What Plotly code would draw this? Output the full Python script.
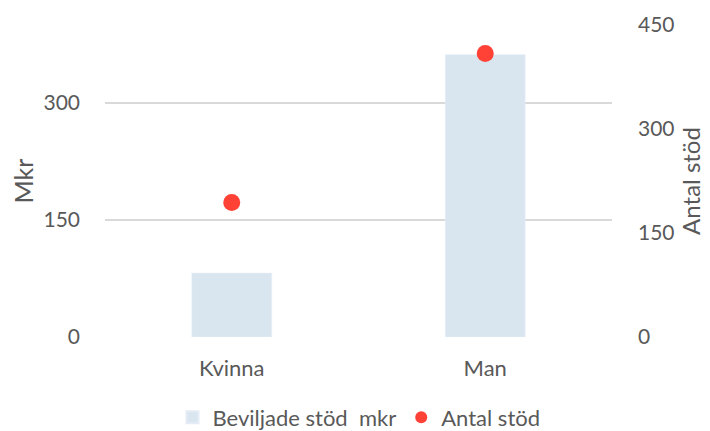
import plotly.graph_objects as go

categories = ["Kvinna", "Man"]
beviljade_mkr = [82, 362]
antal_stod = [194, 409]

left_ticks = [0, 150, 300]
right_ticks = [0, 150, 300, 450]

FONT = "Lato"
GREY = "#595959"

fig = go.Figure()
fig.add_trace(go.Bar(
    x=categories, y=beviljade_mkr, name="Beviljade stöd  mkr",
    marker=dict(color="#d9e6f0"), width=0.315, yaxis="y",
))
fig.add_trace(go.Scatter(
    x=categories, y=antal_stod, name="Antal stöd", mode="markers",
    marker=dict(color="#ff4136", size=17), yaxis="y2",
))

fig.update_layout(
    width=702, height=423,
    margin=dict(l=97, r=98, t=17, b=94, autoexpand=False),
    paper_bgcolor="white", plot_bgcolor="white",
    font=dict(family=FONT, color=GREY, size=21),
    showlegend=True,
    legend=dict(orientation="h", x=0.5, xanchor="center", xref="container",
                y=0.032, yanchor="middle", yref="container",
                font=dict(size=22, color=GREY), itemsizing="constant",
                traceorder="normal", itemwidth=30),
    xaxis=dict(showgrid=False, showline=False, ticks="", ticklabelstandoff=16,
               tickfont=dict(size=22, color=GREY)),
    yaxis=dict(range=[0, 400], tickvals=left_ticks, showgrid=True, gridcolor="#d9d9d9",
               gridwidth=1.5, zeroline=False, showline=False, ticks="",
               ticklabelstandoff=24,
               title=dict(text="Mkr", font=dict(size=25, color=GREY), standoff=36),
               tickfont=dict(size=21, color=GREY)),
    yaxis2=dict(range=[0, 450], tickvals=right_ticks, overlaying="y", side="right",
                showgrid=False, zeroline=False, showline=False, ticks="",
                ticklabelstandoff=25,
                title=dict(text="Antal stöd", font=dict(size=24, color=GREY), standoff=9),
                tickfont=dict(size=21, color=GREY)),
    bargap=0.685,
)

fig.write_html("out.html")
